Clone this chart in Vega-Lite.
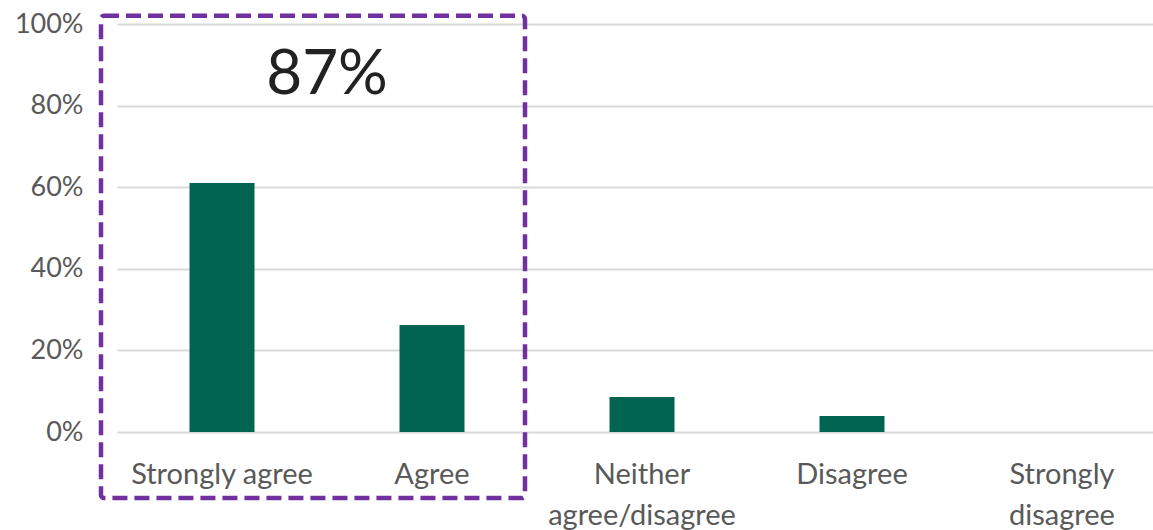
{
  "$schema": "https://vega.github.io/schema/vega-lite/v6.json",
  "width": 1050,
  "height": 408,
  "autosize": {"type": "none"},
  "padding": {"left": 117, "top": 24, "right": 0, "bottom": 106},
  "background": "white",
  "config": {
    "view": {"stroke": null},
    "font": "Lato"
  },
  "datasets": {
    "responses": [
      {"category": "Strongly agree", "share": 0.61},
      {"category": "Agree", "share": 0.262},
      {"category": "Neither agree/disagree", "share": 0.086},
      {"category": "Disagree", "share": 0.039},
      {"category": "Strongly disagree", "share": 0.0}
    ],
    "highlight": [
      {"from": "Strongly agree", "to": "Agree", "low": -0.162, "high": 1.02, "label": "87%", "at": "Agree", "labelY": 0.875}
    ]
  },
  "layer": [
    {
      "data": {"name": "responses"},
      "mark": {"type": "bar", "size": 65, "color": "#006450"},
      "encoding": {
        "x": {
          "field": "category",
          "type": "nominal",
          "scale": {"domain": ["Strongly agree", "Agree", "Neither agree/disagree", "Disagree", "Strongly disagree"], "paddingInner": 0, "paddingOuter": 0},
          "axis": {
            "title": null,
            "labelAngle": 0,
            "domain": false,
            "ticks": false,
            "labelPadding": 28,
            "labelFont": "Lato",
            "labelFontSize": 29,
            "labelColor": "#595959",
            "labelLineHeight": 41,
            "labelLimit": 300,
            "labelExpr": "datum.value == 'Neither agree/disagree' ? ['Neither', 'agree/disagree'] : datum.value == 'Strongly disagree' ? ['Strongly', 'disagree'] : datum.value"
          }
        },
        "y": {
          "field": "share",
          "type": "quantitative",
          "scale": {"domain": [0, 1], "nice": false},
          "axis": {
            "title": null,
            "values": [0, 0.2, 0.4, 0.6, 0.8, 1],
            "format": ".0%",
            "domain": false,
            "ticks": false,
            "labelPadding": 34,
            "labelFont": "Lato",
            "labelFontSize": 27,
            "labelColor": "#595959",
            "gridColor": "#d9d9d9",
            "gridWidth": 2
          }
        }
      }
    },
    {
      "data": {"name": "highlight"},
      "mark": {"type": "rect", "fill": null, "stroke": "#7030A0", "strokeWidth": 4.5, "strokeDash": [15, 7], "cornerRadius": 3, "xOffset": -121, "x2Offset": 93, "clip": false},
      "encoding": {
        "x": {"field": "from", "type": "nominal"},
        "x2": {"field": "to"},
        "y": {"field": "low", "type": "quantitative"},
        "y2": {"field": "high"}
      }
    },
    {
      "data": {"name": "highlight"},
      "mark": {"type": "text", "fontSize": 62, "font": "Lato", "color": "#222222", "baseline": "middle", "align": "center"},
      "encoding": {
        "x": {"field": "at", "type": "nominal", "bandPosition": 0},
        "y": {"field": "labelY", "type": "quantitative"},
        "text": {"field": "label"}
      }
    }
  ]
}
